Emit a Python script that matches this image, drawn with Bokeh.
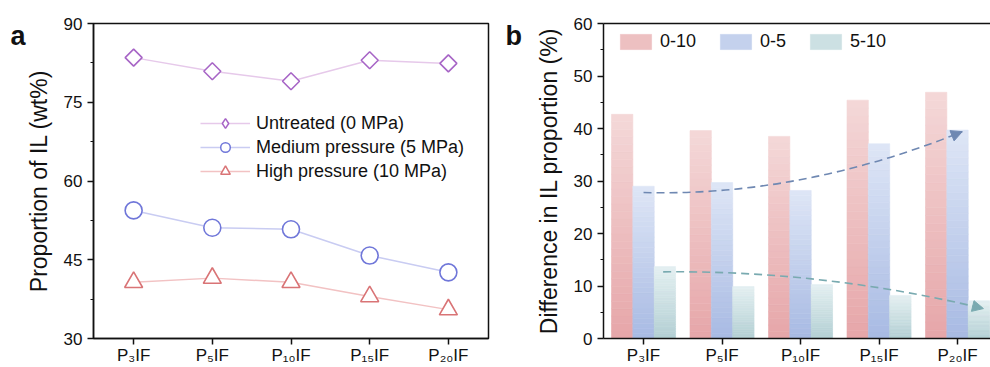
import numpy as np
from bokeh.plotting import figure
from bokeh.models import (Range1d, FixedTicker, LinearAxis, Legend, LegendItem,
                          Label, Arrow, NormalHead, ColumnDataSource)
from bokeh.layouts import row
from bokeh.embed import file_html
from bokeh.resources import INLINE

# ---------------- data ----------------
categories = ["P₃IF", "P₅IF", "P₁₀IF", "P₁₅IF", "P₂₀IF"]

# panel a: proportion of IL (wt%)
untreated = [83.5, 80.9, 79.0, 83.0, 82.4]
medium = [54.4, 51.1, 50.8, 45.8, 42.6]
high = [40.7, 41.5, 40.7, 38.0, 35.5]
series_a_labels = ["Untreated (0 MPa)", "Medium pressure (5 MPa)", "High pressure (10 MPa)"]

# panel b: difference in IL proportion (%)
diff_0_10 = [42.7, 39.6, 38.5, 45.4, 46.9]
diff_0_5 = [29.0, 29.7, 28.2, 37.1, 39.7]
diff_5_10 = [13.7, 9.9, 10.3, 8.2, 7.2]
series_b_labels = ["0-10", "0-5", "5-10"]

# trend arrows in panel b (category index, value): start, control, end
trend_up = [(0.0, 27.8), (2.0, 27.0), (4.06, 39.4)]
trend_down = [(0.25, 12.7), (2.3, 13.0), (4.33, 5.7)]

yticks_a = [30, 45, 60, 75, 90]
yticks_b = [0, 10, 20, 30, 40, 50, 60]

FONT = "Liberation Sans"
xs = list(range(len(categories)))


def style_axes(p):
    for ax in p.xaxis + p.yaxis:
        ax.axis_line_width = 1.5
        ax.axis_line_color = "#111111"
        ax.major_tick_line_width = 1.5
        ax.major_tick_line_color = "#111111"
        ax.minor_tick_line_width = 1.2
        ax.minor_tick_line_color = "#111111"
        ax.major_tick_in = 0
        ax.major_tick_out = 6
        ax.minor_tick_in = 0
        ax.minor_tick_out = 3
        ax.major_label_text_font = FONT
        ax.major_label_text_font_size = "17px"
        ax.major_label_text_color = "#111111"
        ax.axis_label_text_font = FONT
        ax.axis_label_text_font_size = "23px"
        ax.axis_label_text_font_style = "normal"
        ax.axis_label_text_color = "#111111"
        ax.axis_label_standoff = 9
    p.xaxis.ticker = FixedTicker(ticks=xs)
    p.xaxis.major_label_overrides = {i: c for i, c in enumerate(categories)}
    p.xaxis.minor_tick_line_color = None
    p.xaxis.major_label_standoff = 1
    p.grid.visible = False


def panel_letter(p, letter, x, y):
    p.add_layout(Label(x=x, y=y, x_units="canvas", y_units="canvas", text=letter,
                       text_font=FONT, text_font_size="27px", text_font_style="bold",
                       text_color="#111111", text_baseline="alphabetic"), "left")


# ---------------- panel a ----------------
p1 = figure(width=493, height=367, title=None,
            x_range=Range1d(-0.51, 4.51), y_range=Range1d(30, 90),
            output_backend="svg", toolbar_location=None,
            min_border_left=93, min_border_right=5,
            min_border_top=23, min_border_bottom=27)
style_axes(p1)
p1.yaxis.ticker = FixedTicker(ticks=yticks_a,
                              minor_ticks=[(a + b) / 2 for a, b in zip(yticks_a[:-1], yticks_a[1:])])
p1.yaxis.axis_label = "Proportion of IL (wt%)"
p1.outline_line_color = "#111111"
p1.outline_line_width = 1.5
p1.outline_line_alpha = 1

styles_a = [
    (untreated, "square", np.pi / 4, 12, "diamond", "#A765C6", "#E6C9EA"),
    (medium, "circle", 0, 17, "circle", "#7077D9", "#C9CCF2"),
    (high, "triangle", 0, 18, "triangle", "#D97476", "#F2C2C3"),
]
items_a = []
for (vals, mk, ang, sz, legmk, mc, lc), lab in zip(styles_a, series_a_labels):
    rl = p1.line(xs, vals, line_color=lc, line_width=1.5)
    p1.scatter(xs, vals, marker=mk, angle=ang, size=sz, line_color=mc,
               fill_color="white", line_width=1.6)
    # legend-only key glyph (a single NaN point, nothing drawn in the plot)
    rk = p1.scatter([np.nan], [np.nan], marker=legmk, line_color=mc,
                    fill_color="white", line_width=1.5)
    items_a.append(LegendItem(label=lab, renderers=[rl, rk]))

leg_a = Legend(items=items_a, location=(107, 155), orientation="vertical",
               glyph_width=50, glyph_height=24, label_height=24, spacing=0,
               label_standoff=6, padding=0, margin=0,
               label_text_font=FONT, label_text_font_size="18px",
               label_text_color="#111111",
               border_line_color=None, background_fill_alpha=0)
p1.add_layout(leg_a, "center")
panel_letter(p1, "a", 10, 35)

# ---------------- panel b ----------------
p2 = figure(width=497, height=367, title=None,
            x_range=Range1d(-0.51, 4.42), y_range=Range1d(0, 60),
            output_backend="svg", toolbar_location=None,
            min_border_left=110, min_border_right=0,
            min_border_top=23, min_border_bottom=27)
style_axes(p2)
p2.yaxis.ticker = FixedTicker(ticks=yticks_b,
                              minor_ticks=[(a + b) / 2 for a, b in zip(yticks_b[:-1], yticks_b[1:])])
p2.yaxis.axis_label = "Difference in IL proportion (%)"
p2.outline_line_color = None
top_ax = LinearAxis(ticker=FixedTicker(ticks=[]), axis_line_width=1.5,
                    axis_line_color="#111111", major_tick_line_color=None,
                    minor_tick_line_color=None)
p2.add_layout(top_ax, "above")


def hex2rgb(h):
    h = h.lstrip("#")
    return np.array([int(h[i:i + 2], 16) for i in (0, 2, 4)], dtype=float)


def grad_source(vals, offset, c_bot, c_top, width, n=30):
    cb, ct = hex2rgb(c_bot), hex2rgb(c_top)
    d = dict(left=[], right=[], bottom=[], top=[], color=[])
    for i, v in enumerate(vals):
        for k in range(n):
            f = (k + 0.5) / n
            c = cb + (ct - cb) * f
            d["left"].append(i + offset - width / 2)
            d["right"].append(i + offset + width / 2)
            d["bottom"].append(v * k / n)
            d["top"].append(v * (k + 1) / n)
            d["color"].append("#%02x%02x%02x" % tuple(int(round(x)) for x in c))
    return ColumnDataSource(d), n


bw = 0.272
bar_styles = [
    (diff_0_10, -bw, "#E6A6A9", "#F4D8D8"),
    (diff_0_5, 0.0, "#A8BAE3", "#DEE6F6"),
    (diff_5_10, bw, "#B3CFD4", "#E4F0F1"),
]
items_b = []
for (vals, off, cb, ct), lab in zip(bar_styles, series_b_labels):
    src, n = grad_source(vals, off, cb, ct, bw)
    r = p2.quad(left="left", right="right", bottom="bottom", top="top",
                fill_color="color", line_color="color", line_width=0.6, source=src)
    items_b.append(LegendItem(label=lab, renderers=[r], index=n // 2))

leg_b = Legend(items=items_b, location=(13, 286), orientation="horizontal",
               glyph_width=39, glyph_height=19, label_height=19, spacing=20,
               label_standoff=5, padding=0, margin=0,
               label_text_font=FONT, label_text_font_size="18px",
               label_text_color="#111111",
               border_line_color=None, background_fill_alpha=0)
p2.add_layout(leg_b, "center")

for (s, c, e), col in ((trend_up, "#6F88B2"), (trend_down, "#79AAB0")):
    p2.quadratic(x0=[s[0]], y0=[s[1]], cx=[c[0]], cy=[c[1]], x1=[e[0]], y1=[e[1]],
                 line_color=col, line_width=1.6, line_dash="8 5")
    sx = e[0] - 0.08 * (e[0] - c[0])
    sy = e[1] - 0.08 * (e[1] - c[1])
    p2.add_layout(Arrow(x_start=sx, y_start=sy, x_end=e[0], y_end=e[1],
                        line_alpha=0,
                        end=NormalHead(size=11, fill_color=col, line_color=col)))

panel_letter(p2, "b", 12, 35)

layout = row(p1, p2)
open("out.html", "w").write(file_html(layout, INLINE))
